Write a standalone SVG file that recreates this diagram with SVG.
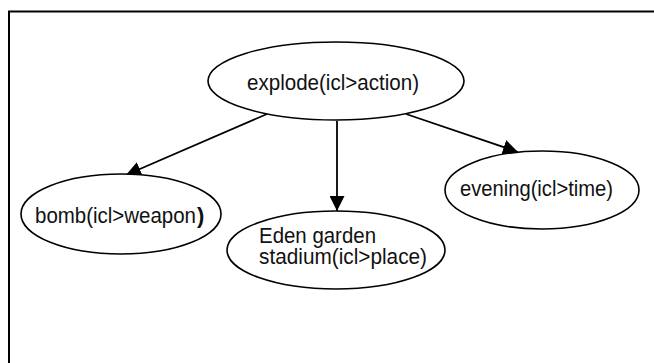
<svg xmlns="http://www.w3.org/2000/svg" width="654" height="363" viewBox="0 0 654 363">
<style>
.node ellipse{fill:#fff;stroke:#000;stroke-width:1.6}
.node text{font-family:"Liberation Sans",Arial,sans-serif;font-size:22px;fill:#111}
.edge{stroke:#000;stroke-width:1.8;fill:none}
</style>
<defs>
<marker id="arr" markerUnits="userSpaceOnUse" markerWidth="15" markerHeight="15" refX="14" refY="7" orient="auto" viewBox="0 0 14 14">
<path d="M0,0 L14,7 L0,14 z" fill="#000"/>
</marker>
</defs>
<rect width="654" height="363" fill="#fff"/>
<path d="M9,363 V11.5 H654" fill="none" stroke="#000" stroke-width="2"/>
<g id="connectors">
<line class="edge" x1="267" y1="114" x2="126" y2="175" marker-end="url(#arr)"/>
<line class="edge" x1="337" y1="121" x2="337" y2="211" marker-end="url(#arr)"/>
<line class="edge" x1="406" y1="114" x2="518" y2="152" marker-end="url(#arr)"/>
</g>
<g id="explode" class="node">
<ellipse cx="336" cy="81" rx="128" ry="39"/>
<text x="247" y="90" textLength="172" lengthAdjust="spacingAndGlyphs">explode(icl&gt;action)</text>
</g>
<g id="bomb" class="node">
<ellipse cx="121" cy="214" rx="100" ry="40"/>
<text x="35" y="223" textLength="161" lengthAdjust="spacingAndGlyphs">bomb(icl&gt;weapon</text>
<text x="197" y="223" font-weight="bold">)</text>
</g>
<g id="eden" class="node">
<ellipse cx="336" cy="250" rx="109" ry="39"/>
<text x="259" y="243" textLength="117" lengthAdjust="spacingAndGlyphs">Eden garden</text>
<text x="259" y="264" textLength="168" lengthAdjust="spacingAndGlyphs">stadium(icl&gt;place)</text>
</g>
<g id="evening" class="node">
<ellipse cx="542" cy="190" rx="97" ry="39"/>
<text x="460" y="196" textLength="153" lengthAdjust="spacingAndGlyphs">evening(icl&gt;time)</text>
</g>
</svg>
